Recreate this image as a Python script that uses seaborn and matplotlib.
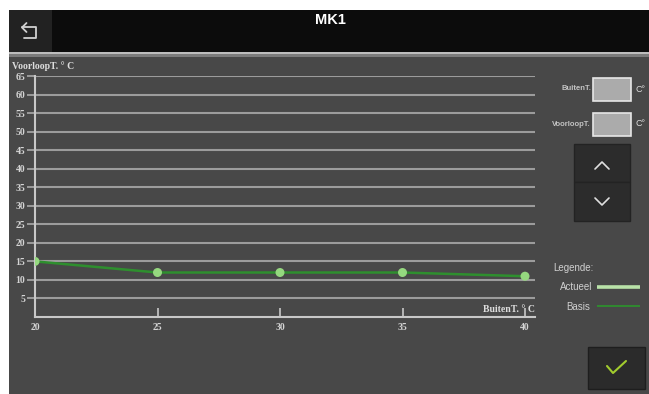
import matplotlib
matplotlib.use("Agg")
import matplotlib.pyplot as plt
import matplotlib.transforms as mtransforms
from matplotlib.patches import Rectangle
from matplotlib.lines import Line2D
import seaborn as sns
import pandas as pd

# ---- data ----
buiten_t = [20, 25, 30, 35, 40]
basis = [15, 12, 12, 12, 11]
actueel = [15, 12, 12, 12, 11]
y_ticks = [5, 10, 15, 20, 25, 30, 35, 40, 45, 50, 55, 60, 65]
x_ticks = [20, 25, 30, 35, 40]
title = "MK1"
y_label = "VoorloopT. ° C"
x_label = "BuitenT. ° C"

W, H = 649, 394
fig = plt.figure(figsize=(W / 100, H / 100), dpi=100)
fig.patch.set_facecolor("white")
px = mtransforms.Affine2D().scale(1 / W, -1 / H).translate(0, 1) + fig.transFigure

def rect(x0, y0, x1, y1, fc, ec="none", lw=0, z=0):
    r = Rectangle((x0, y1), x1 - x0, y0 - y1, transform=px, facecolor=fc,
                  edgecolor=ec, linewidth=lw, zorder=z)
    fig.add_artist(r)

def line(xs, ys, color, lw, z=3, solid_capstyle="round"):
    fig.add_artist(Line2D(xs, ys, transform=px, color=color, linewidth=lw,
                          zorder=z, solid_capstyle=solid_capstyle,
                          solid_joinstyle="round"))

def text(x, y, s, **kw):
    fig.text(x, y, s, transform=px, **kw)

# background panels
rect(9, 56, W, H, "#484848")
rect(9, 10, W, 52, "#0c0c0c")
rect(9, 51.5, W, 54, "#bdbdbd")
rect(9, 54, W, 56.5, "#7c7c7c")
rect(9, 10, 52, 51.5, "#222222", z=1)

# back icon
line([26.5, 22, 26.5], [23, 27.5, 32], "#d0d0d0", 1.3)
line([22, 36, 36, 24], [27.5, 27.5, 38.5, 38.5], "#d0d0d0", 1.3)

text(330, 20, title, ha="center", va="center", color="white",
     fontsize=10.5, fontweight="bold", family="Liberation Sans")

# ---- chart ----
ax = fig.add_axes([35 / W, (H - 317) / H, (535 - 35) / W, (317 - 76) / H])
ax.set_facecolor("none")
df = pd.DataFrame({"BuitenT": buiten_t, "Basis": basis, "Actueel": actueel})
sns.lineplot(data=df, x="BuitenT", y="Basis", ax=ax, color="#2e8f2e",
             linewidth=1.8, zorder=3)
sns.scatterplot(data=df, x="BuitenT", y="Actueel", ax=ax, color="#95d87f",
                s=42, edgecolor="none", zorder=4)
ax.set_xlim(20, 40 + 10 / 24.5)
ax.set_ylim(0, 65)
ax.set_xlabel("")
ax.set_ylabel("")
for s in ["top", "right"]:
    ax.spines[s].set_visible(False)
for s in ["left", "bottom"]:
    ax.spines[s].set_color("#c8c8c8")
    ax.spines[s].set_linewidth(1.5)
ax.set_yticks(y_ticks)
ax.set_yticklabels([str(v) for v in y_ticks])
ax.set_xticks(x_ticks)
ax.set_xticklabels([str(v) for v in x_ticks])
ax.yaxis.grid(True, color="#9c9c9c", linewidth=1.5)
ax.set_axisbelow(True)
ax.tick_params(axis="y", direction="out", length=6, width=1.4, color="#9c9c9c",
               pad=1, labelsize=7, labelcolor="#d4d4d4")
ax.tick_params(axis="x", direction="in", length=6.5, width=1.2, color="#c8c8c8",
               pad=4, labelsize=7, labelcolor="#d4d4d4")
for lab in ax.get_xticklabels() + ax.get_yticklabels():
    lab.set_family("Liberation Serif")
    lab.set_fontweight("bold")

text(12, 66, y_label, ha="left", va="center", color="#dddddd", fontsize=7,
     family="Liberation Serif", fontweight="bold")
text(535, 310, x_label, ha="right", va="center", color="#dddddd", fontsize=7,
     family="Liberation Serif", fontweight="bold")

# ---- right panel ----
text(591, 88, "BuitenT.", ha="right", va="center", color="#c4c4c4",
     fontsize=5.5, fontweight="bold", family="Liberation Sans")
rect(593, 78, 631, 101, "#ababab", ec="#e6e6e6", lw=1.2, z=2)
text(635, 89, "C°", ha="left", va="center", color="#dddddd", fontsize=6.5,
     family="Liberation Sans")
text(591, 124, "VoorloopT.", ha="right", va="center", color="#c4c4c4",
     fontsize=5.5, fontweight="bold", family="Liberation Sans")
rect(593, 113, 631, 136, "#ababab", ec="#e6e6e6", lw=1.2, z=2)
text(635, 124, "C°", ha="left", va="center", color="#dddddd", fontsize=6.5,
     family="Liberation Sans")

rect(574, 144, 630, 182, "#2c2c2c", ec="#232323", lw=1.0, z=2)
rect(574, 182, 630, 221, "#2c2c2c", ec="#232323", lw=1.0, z=2)
line([595, 602, 609], [169, 162, 169], "#e0e0e0", 1.2)
line([595, 602, 609], [198, 205, 198], "#e0e0e0", 1.2)

text(553, 268, "Legende:", ha="left", va="center", color="#d0d0d0",
     fontsize=7, family="Liberation Sans")
text(592, 287, "Actueel", ha="right", va="center", color="#d0d0d0",
     fontsize=7, family="Liberation Sans")
line([597, 640], [287, 287], "#b9e2a8", 2.6, solid_capstyle="butt")
text(590, 307, "Basis", ha="right", va="center", color="#d0d0d0",
     fontsize=7, family="Liberation Sans")
line([597, 640], [306.5, 306.5], "#2e8f2e", 1.3, solid_capstyle="butt")

rect(588, 347, 645, 389, "#2b2b2b", ec="#1e1e1e", lw=1.0, z=2)
line([607, 613, 626], [366, 373, 361], "#a2cc2e", 1.5)

fig.savefig("out.png", dpi=100, facecolor=fig.get_facecolor())
